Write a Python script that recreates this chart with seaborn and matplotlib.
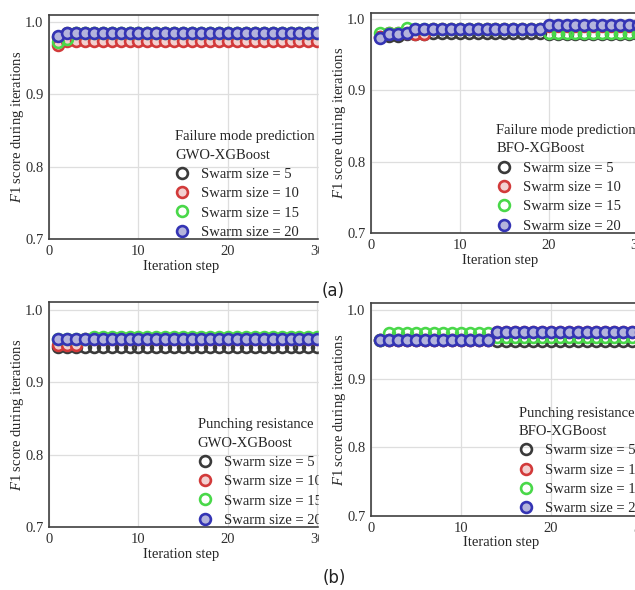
import matplotlib
matplotlib.use("Agg")
import matplotlib.pyplot as plt
import matplotlib.patches as mpatches
import seaborn as sns

# ---- data ----
ITER = list(range(1, 31))
SWARM_LABELS = ["Swarm size = 5", "Swarm size = 10", "Swarm size = 15", "Swarm size = 20"]

# (a) failure mode prediction, GWO-XGBoost
fm_gwo_5 = [0.980, 0.985, 0.985, 0.985, 0.985, 0.985, 0.985, 0.985, 0.985, 0.985,
            0.985, 0.985, 0.985, 0.985, 0.985, 0.985, 0.985, 0.985, 0.985, 0.985,
            0.985, 0.985, 0.985, 0.985, 0.985, 0.985, 0.985, 0.985, 0.985, 0.985]
fm_gwo_10 = [0.969, 0.974, 0.974, 0.974, 0.974, 0.974, 0.974, 0.974, 0.974, 0.974,
             0.974, 0.974, 0.974, 0.974, 0.974, 0.974, 0.974, 0.974, 0.974, 0.974,
             0.974, 0.974, 0.974, 0.974, 0.974, 0.974, 0.974, 0.974, 0.974, 0.974]
fm_gwo_15 = [0.972, 0.977, 0.985, 0.985, 0.985, 0.985, 0.985, 0.985, 0.985, 0.985,
             0.985, 0.985, 0.985, 0.985, 0.985, 0.985, 0.985, 0.985, 0.985, 0.985,
             0.985, 0.985, 0.985, 0.985, 0.985, 0.985, 0.985, 0.985, 0.985, 0.985]
fm_gwo_20 = [0.981, 0.985, 0.985, 0.985, 0.985, 0.985, 0.985, 0.985, 0.985, 0.985,
             0.985, 0.985, 0.985, 0.985, 0.985, 0.985, 0.985, 0.985, 0.985, 0.985,
             0.985, 0.985, 0.985, 0.985, 0.985, 0.985, 0.985, 0.985, 0.985, 0.985]

# (a) failure mode prediction, BFO-XGBoost
fm_bfo_5 = [0.975, 0.976, 0.976, 0.979, 0.979, 0.979, 0.980, 0.980, 0.980, 0.980,
            0.980, 0.980, 0.980, 0.980, 0.980, 0.980, 0.980, 0.980, 0.980, 0.979,
            0.979, 0.979, 0.979, 0.979, 0.979, 0.979, 0.979, 0.979, 0.979, 0.979]
fm_bfo_10 = [0.975, 0.980, 0.980, 0.980, 0.979, 0.979, 0.986, 0.986, 0.986, 0.986,
             0.986, 0.986, 0.986, 0.986, 0.986, 0.986, 0.986, 0.986, 0.986, 0.990,
             0.990, 0.990, 0.990, 0.990, 0.990, 0.990, 0.990, 0.990, 0.990, 0.990]
fm_bfo_15 = [0.981, 0.980, 0.980, 0.987, 0.986, 0.986, 0.986, 0.986, 0.986, 0.986,
             0.986, 0.986, 0.986, 0.986, 0.986, 0.986, 0.986, 0.986, 0.986, 0.981,
             0.981, 0.981, 0.981, 0.981, 0.981, 0.981, 0.981, 0.981, 0.981, 0.981]
fm_bfo_20 = [0.974, 0.979, 0.979, 0.980, 0.986, 0.986, 0.986, 0.986, 0.986, 0.986,
             0.986, 0.986, 0.986, 0.986, 0.986, 0.986, 0.986, 0.986, 0.986, 0.991,
             0.991, 0.991, 0.991, 0.991, 0.991, 0.991, 0.991, 0.991, 0.991, 0.991]

# (b) punching resistance, GWO-XGBoost
pr_gwo_5 = [0.949, 0.949, 0.949, 0.949, 0.949, 0.949, 0.949, 0.949, 0.949, 0.949,
            0.949, 0.949, 0.949, 0.949, 0.949, 0.949, 0.949, 0.949, 0.949, 0.949,
            0.949, 0.949, 0.949, 0.949, 0.949, 0.949, 0.949, 0.949, 0.949, 0.949]
pr_gwo_10 = [0.952, 0.952, 0.952, 0.960, 0.960, 0.960, 0.960, 0.960, 0.960, 0.960,
             0.960, 0.960, 0.960, 0.960, 0.960, 0.960, 0.960, 0.960, 0.960, 0.960,
             0.960, 0.960, 0.960, 0.960, 0.960, 0.960, 0.960, 0.960, 0.960, 0.960]
pr_gwo_15 = [0.960, 0.960, 0.960, 0.960, 0.963, 0.963, 0.963, 0.963, 0.963, 0.963,
             0.963, 0.963, 0.963, 0.963, 0.963, 0.963, 0.963, 0.963, 0.963, 0.963,
             0.963, 0.963, 0.963, 0.963, 0.963, 0.963, 0.963, 0.963, 0.963, 0.963]
pr_gwo_20 = [0.960, 0.960, 0.960, 0.960, 0.960, 0.960, 0.960, 0.960, 0.960, 0.960,
             0.960, 0.960, 0.960, 0.960, 0.960, 0.960, 0.960, 0.960, 0.960, 0.960,
             0.960, 0.960, 0.960, 0.960, 0.960, 0.960, 0.960, 0.960, 0.960, 0.960]

# (b) punching resistance, BFO-XGBoost
pr_bfo_5 = [0.956, 0.956, 0.956, 0.956, 0.956, 0.956, 0.956, 0.956, 0.956, 0.956,
            0.956, 0.956, 0.956, 0.954, 0.954, 0.954, 0.954, 0.954, 0.954, 0.954,
            0.954, 0.954, 0.954, 0.954, 0.954, 0.954, 0.954, 0.954, 0.954, 0.954]
pr_bfo_10 = [0.956, 0.956, 0.956, 0.956, 0.956, 0.956, 0.956, 0.956, 0.956, 0.956,
             0.956, 0.956, 0.956, 0.968, 0.968, 0.968, 0.968, 0.968, 0.968, 0.968,
             0.968, 0.968, 0.968, 0.968, 0.968, 0.968, 0.968, 0.968, 0.968, 0.968]
pr_bfo_15 = [0.956, 0.966, 0.966, 0.966, 0.966, 0.966, 0.966, 0.966, 0.966, 0.966,
             0.966, 0.966, 0.966, 0.961, 0.961, 0.961, 0.961, 0.961, 0.961, 0.961,
             0.961, 0.961, 0.961, 0.961, 0.961, 0.961, 0.961, 0.961, 0.961, 0.961]
pr_bfo_20 = [0.956, 0.956, 0.956, 0.956, 0.956, 0.956, 0.956, 0.956, 0.956, 0.956,
             0.956, 0.956, 0.956, 0.968, 0.968, 0.968, 0.968, 0.968, 0.968, 0.968,
             0.968, 0.968, 0.968, 0.968, 0.968, 0.968, 0.968, 0.968, 0.968, 0.968]

EDGE = ["#3a3a3a", "#d23a3a", "#49d849", "#3434b4"]
FACE = ["none", "#f3d0d0", "none", "#b4b4dc"]

sns.set_theme(style="whitegrid")
plt.rcParams.update({
    "font.family": ["Liberation Serif", "DejaVu Serif"],
    "mathtext.fontset": "custom",
    "mathtext.rm": "Liberation Serif",
    "mathtext.it": "Liberation Serif:italic",
    "axes.edgecolor": "#404040",
    "axes.linewidth": 1.2,
    "grid.color": "#dedede",
    "grid.linewidth": 0.9,
    "xtick.direction": "in",
    "ytick.direction": "in",
    "xtick.color": "#404040",
    "ytick.color": "#404040",
    "xtick.labelcolor": "#303030",
    "ytick.labelcolor": "#303030",
    "xtick.major.size": 4,
    "ytick.major.size": 4,
})

W, H = 635, 590
fig = plt.figure(figsize=(W / 100, H / 100), dpi=100)


def _axes(left, bottom, width, height):
    return fig.add_axes([left / W, 1 - bottom / H, width / W, height / H])


panels = [
    # (pixel box, ylim top, series, legend title, legend anchor x, xlabel x, ylabel x)
    ((49, 239, 322, 224), 1.010, [fm_gwo_5, fm_gwo_10, fm_gwo_15, fm_gwo_20],
     "Failure mode prediction\nGWO-XGBoost", 0.36, 0.41, -0.071),
    ((371, 233, 320, 220), 1.0085, [fm_bfo_5, fm_bfo_10, fm_bfo_15, fm_bfo_20],
     "Failure mode prediction\nBFO-XGBoost", 0.36, 0.403, -0.072),
    ((49, 527, 322, 225), 1.011, [pr_gwo_5, pr_gwo_10, pr_gwo_15, pr_gwo_20],
     "Punching resistance\nGWO-XGBoost", 0.43, 0.41, -0.071),
    ((371, 516, 324, 213), 1.010, [pr_bfo_5, pr_bfo_10, pr_bfo_15, pr_bfo_20],
     "Punching resistance\nBFO-XGBoost", 0.425, 0.403, -0.072),
]

for i, (box, ytop, series, title, lx, xlab_x, ylab_x) in enumerate(panels):
    ax = _axes(*box)
    ax.set_zorder(0 if i % 2 == 0 else 2)
    for vals, lab, ec, fc in zip(series, SWARM_LABELS, EDGE, FACE):
        sns.lineplot(x=ITER, y=vals, ax=ax, label=lab, color=ec, marker="o",
                     linestyle="none", markersize=7.8, markeredgewidth=1.9,
                     markeredgecolor=ec, markerfacecolor=fc)
    ax.set_xlim(0, 36)
    ax.set_ylim(0.7, ytop)
    ax.set_xticks([0, 10, 20, 30])
    ax.set_yticks([0.7, 0.8, 0.9, 1.0])
    ax.set_yticklabels(["0.7", "0.8", "0.9", "1.0"])
    ax.tick_params(labelsize=10.5, pad=4, top=False, right=False)
    ax.grid(True)
    ax.spines["right"].set_visible(False)
    ax.set_xlabel("Iteration step", fontsize=10.5)
    ax.xaxis.set_label_coords(xlab_x, -0.095)
    ax.set_ylabel(r"$\mathit{F}$1 score during iterations", fontsize=10.5)
    ax.yaxis.set_label_coords(ylab_x, 0.5)
    leg = ax.legend(title=title, loc="lower left", bbox_to_anchor=(lx, -0.045),
                    frameon=False, fontsize=10.5, title_fontsize=10.5,
                    alignment="left", handlelength=1.0, handletextpad=0.8,
                    labelspacing=0.42, borderpad=0.2)
    leg.get_title().set_linespacing(1.55)

# the source picture crops the left panels at the column gap
fig.add_artist(mpatches.Rectangle((319 / W, 0), 1 - 319 / W, 1,
                                  transform=fig.transFigure, color="white",
                                  zorder=1))

fig.text(333 / W, 1 - 291 / H, "(a)", ha="center", va="center",
         fontsize=12, family="DejaVu Sans", color="#222222", zorder=5)
fig.text(334 / W, 1 - 578 / H, "(b)", ha="center", va="center",
         fontsize=12, family="DejaVu Sans", color="#222222", zorder=5)

fig.savefig("out.png", dpi=100)
